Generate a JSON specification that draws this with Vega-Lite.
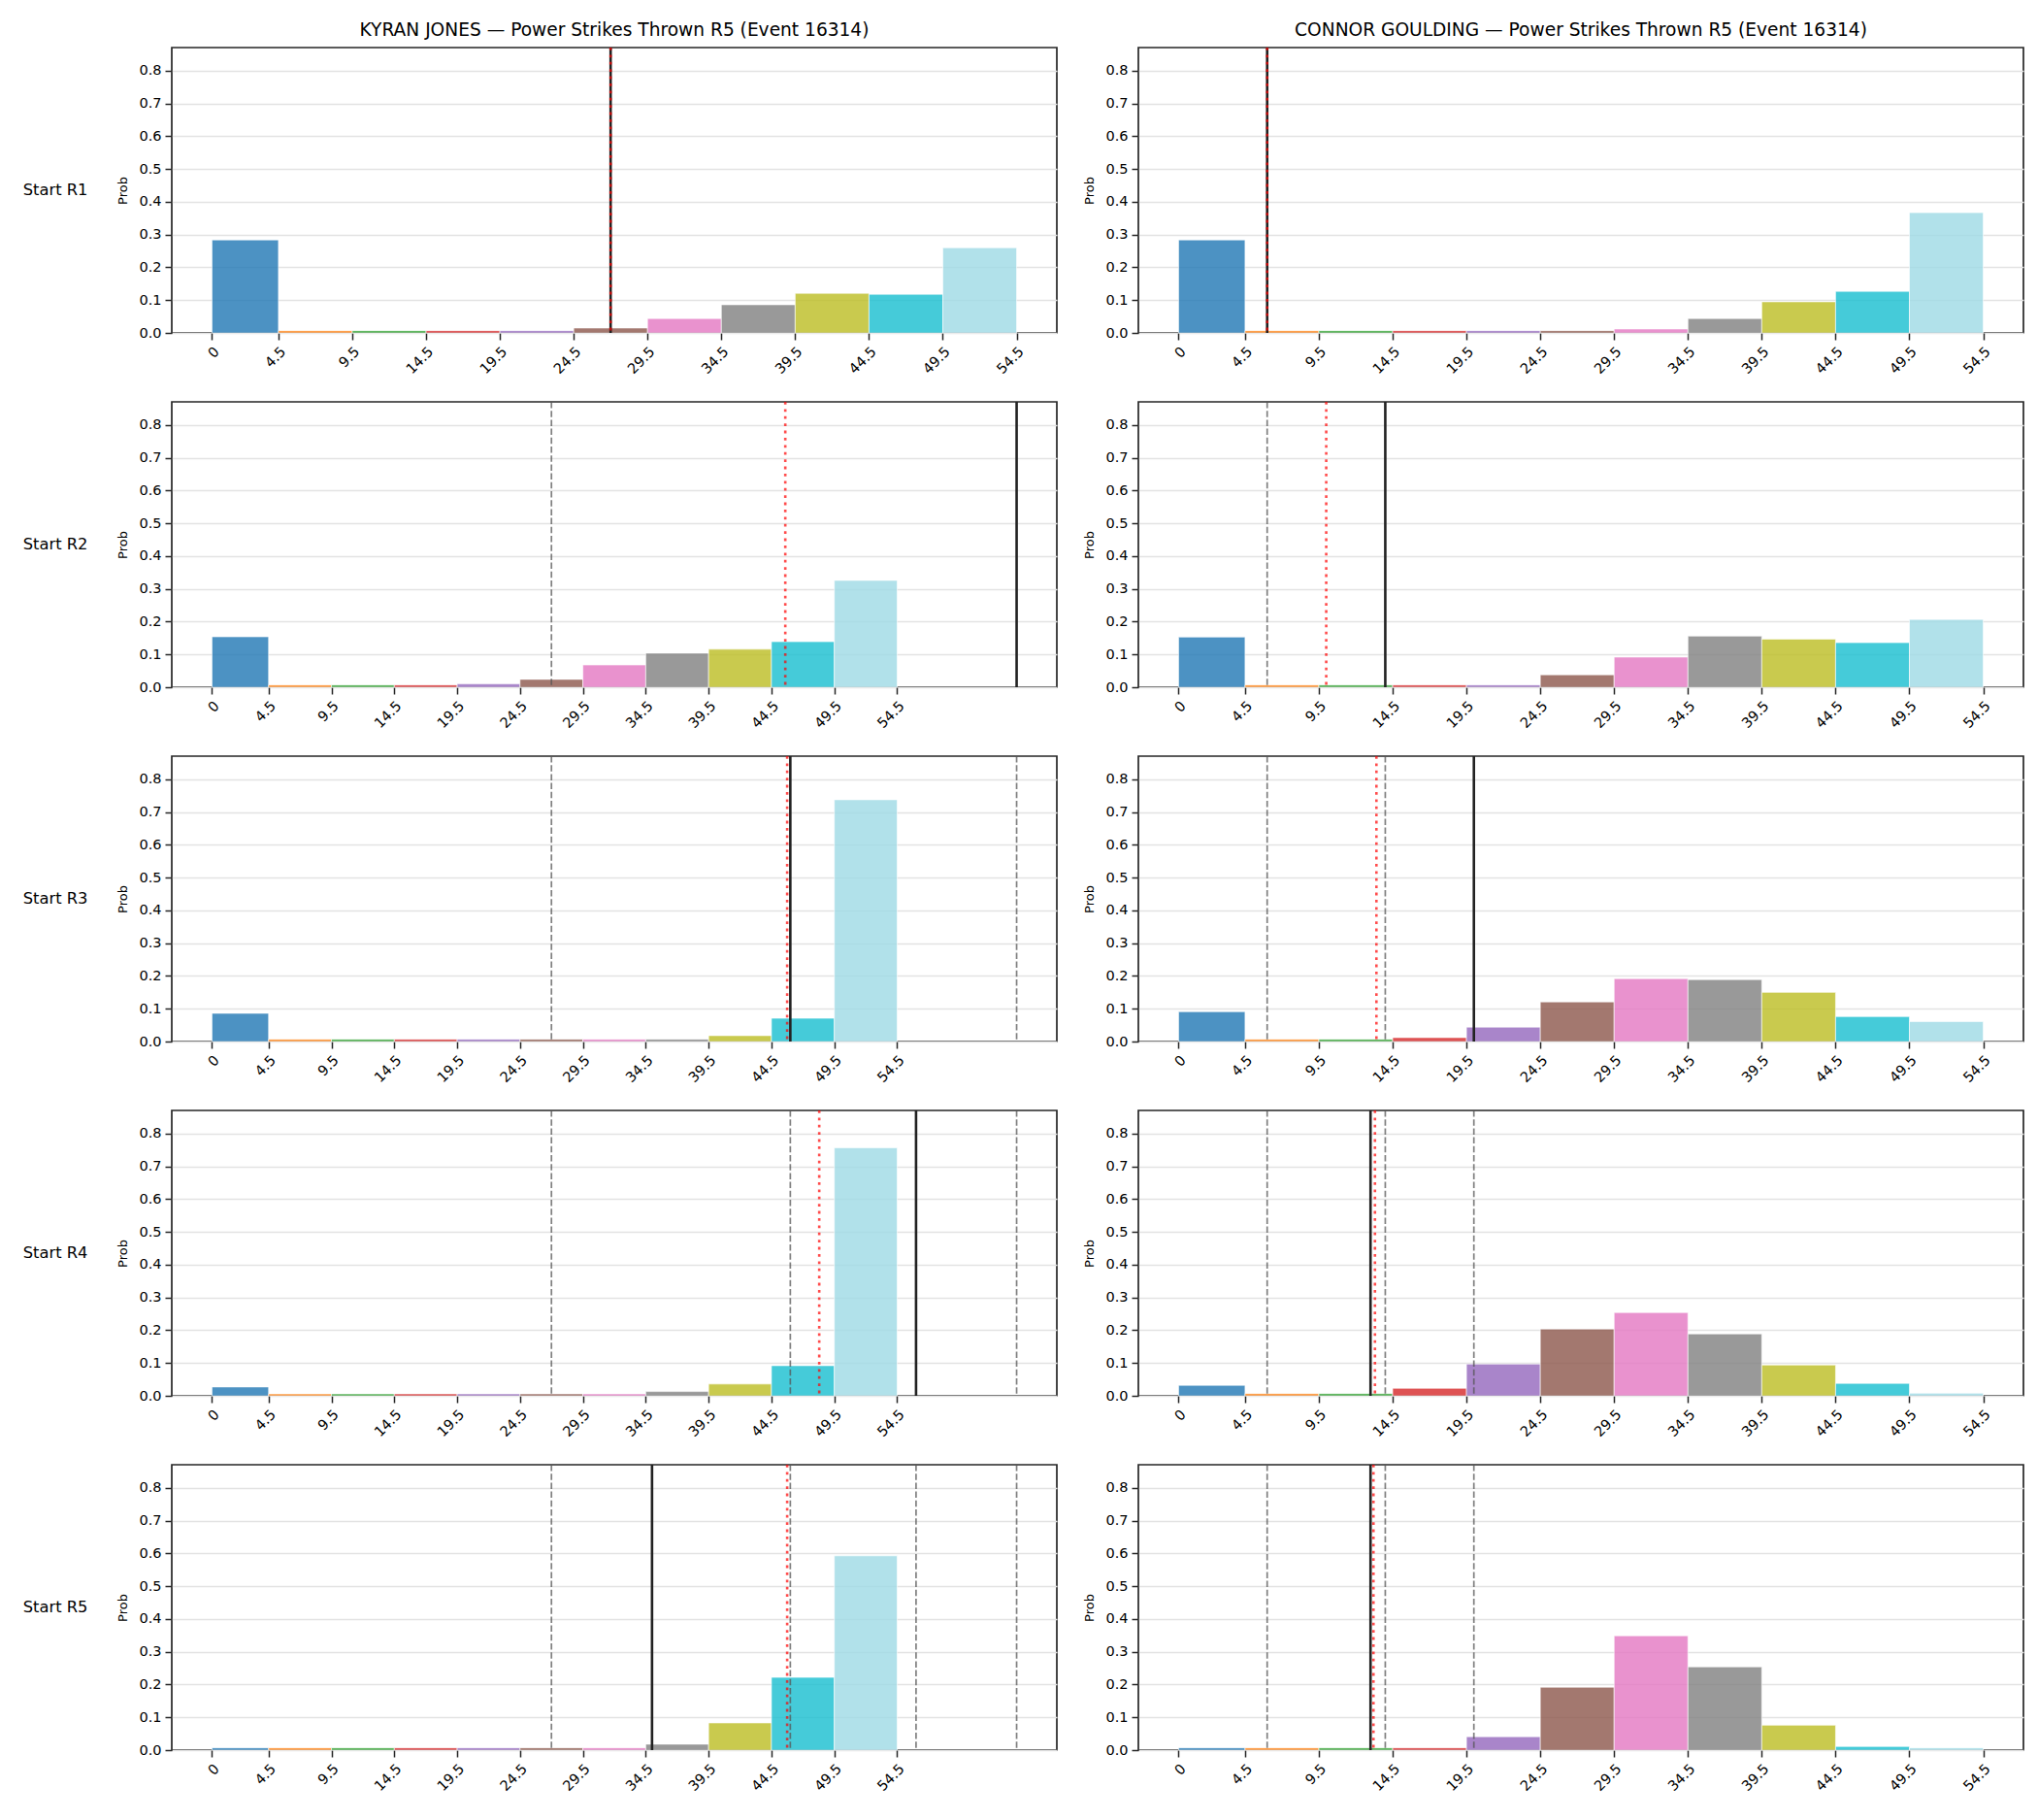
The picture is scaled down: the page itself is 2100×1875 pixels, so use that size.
{
  "$schema": "https://vega.github.io/schema/vega-lite/v6.json",
  "background": "white",
  "padding": {"left": 23, "top": 22, "right": 0, "bottom": 0},
  "data": {"values": [
    {"k":"bar","r":"Start R1","f":"KYRAN JONES","b":"b0","lo":0,"hi":4.5,"p":0.284},
    {"k":"bar","r":"Start R1","f":"KYRAN JONES","b":"b1","lo":4.5,"hi":9.5,"p":0.007},
    {"k":"bar","r":"Start R1","f":"KYRAN JONES","b":"b2","lo":9.5,"hi":14.5,"p":0.007},
    {"k":"bar","r":"Start R1","f":"KYRAN JONES","b":"b3","lo":14.5,"hi":19.5,"p":0.007},
    {"k":"bar","r":"Start R1","f":"KYRAN JONES","b":"b4","lo":19.5,"hi":24.5,"p":0.007},
    {"k":"bar","r":"Start R1","f":"KYRAN JONES","b":"b5","lo":24.5,"hi":29.5,"p":0.015},
    {"k":"bar","r":"Start R1","f":"KYRAN JONES","b":"b6","lo":29.5,"hi":34.5,"p":0.044},
    {"k":"bar","r":"Start R1","f":"KYRAN JONES","b":"b7","lo":34.5,"hi":39.5,"p":0.086},
    {"k":"bar","r":"Start R1","f":"KYRAN JONES","b":"b8","lo":39.5,"hi":44.5,"p":0.121},
    {"k":"bar","r":"Start R1","f":"KYRAN JONES","b":"b9","lo":44.5,"hi":49.5,"p":0.118},
    {"k":"bar","r":"Start R1","f":"KYRAN JONES","b":"b10","lo":49.5,"hi":54.5,"p":0.260},

    {"k":"bar","r":"Start R1","f":"CONNOR GOULDING","b":"b0","lo":0,"hi":4.5,"p":0.284},
    {"k":"bar","r":"Start R1","f":"CONNOR GOULDING","b":"b1","lo":4.5,"hi":9.5,"p":0.007},
    {"k":"bar","r":"Start R1","f":"CONNOR GOULDING","b":"b2","lo":9.5,"hi":14.5,"p":0.007},
    {"k":"bar","r":"Start R1","f":"CONNOR GOULDING","b":"b3","lo":14.5,"hi":19.5,"p":0.007},
    {"k":"bar","r":"Start R1","f":"CONNOR GOULDING","b":"b4","lo":19.5,"hi":24.5,"p":0.007},
    {"k":"bar","r":"Start R1","f":"CONNOR GOULDING","b":"b5","lo":24.5,"hi":29.5,"p":0.007},
    {"k":"bar","r":"Start R1","f":"CONNOR GOULDING","b":"b6","lo":29.5,"hi":34.5,"p":0.012},
    {"k":"bar","r":"Start R1","f":"CONNOR GOULDING","b":"b7","lo":34.5,"hi":39.5,"p":0.044},
    {"k":"bar","r":"Start R1","f":"CONNOR GOULDING","b":"b8","lo":39.5,"hi":44.5,"p":0.095},
    {"k":"bar","r":"Start R1","f":"CONNOR GOULDING","b":"b9","lo":44.5,"hi":49.5,"p":0.127},
    {"k":"bar","r":"Start R1","f":"CONNOR GOULDING","b":"b10","lo":49.5,"hi":54.5,"p":0.367},

    {"k":"bar","r":"Start R2","f":"KYRAN JONES","b":"b0","lo":0,"hi":4.5,"p":0.154},
    {"k":"bar","r":"Start R2","f":"KYRAN JONES","b":"b1","lo":4.5,"hi":9.5,"p":0.007},
    {"k":"bar","r":"Start R2","f":"KYRAN JONES","b":"b2","lo":9.5,"hi":14.5,"p":0.007},
    {"k":"bar","r":"Start R2","f":"KYRAN JONES","b":"b3","lo":14.5,"hi":19.5,"p":0.007},
    {"k":"bar","r":"Start R2","f":"KYRAN JONES","b":"b4","lo":19.5,"hi":24.5,"p":0.010},
    {"k":"bar","r":"Start R2","f":"KYRAN JONES","b":"b5","lo":24.5,"hi":29.5,"p":0.024},
    {"k":"bar","r":"Start R2","f":"KYRAN JONES","b":"b6","lo":29.5,"hi":34.5,"p":0.068},
    {"k":"bar","r":"Start R2","f":"KYRAN JONES","b":"b7","lo":34.5,"hi":39.5,"p":0.104},
    {"k":"bar","r":"Start R2","f":"KYRAN JONES","b":"b8","lo":39.5,"hi":44.5,"p":0.116},
    {"k":"bar","r":"Start R2","f":"KYRAN JONES","b":"b9","lo":44.5,"hi":49.5,"p":0.139},
    {"k":"bar","r":"Start R2","f":"KYRAN JONES","b":"b10","lo":49.5,"hi":54.5,"p":0.326},

    {"k":"bar","r":"Start R2","f":"CONNOR GOULDING","b":"b0","lo":0,"hi":4.5,"p":0.153},
    {"k":"bar","r":"Start R2","f":"CONNOR GOULDING","b":"b1","lo":4.5,"hi":9.5,"p":0.007},
    {"k":"bar","r":"Start R2","f":"CONNOR GOULDING","b":"b2","lo":9.5,"hi":14.5,"p":0.007},
    {"k":"bar","r":"Start R2","f":"CONNOR GOULDING","b":"b3","lo":14.5,"hi":19.5,"p":0.007},
    {"k":"bar","r":"Start R2","f":"CONNOR GOULDING","b":"b4","lo":19.5,"hi":24.5,"p":0.007},
    {"k":"bar","r":"Start R2","f":"CONNOR GOULDING","b":"b5","lo":24.5,"hi":29.5,"p":0.038},
    {"k":"bar","r":"Start R2","f":"CONNOR GOULDING","b":"b6","lo":29.5,"hi":34.5,"p":0.092},
    {"k":"bar","r":"Start R2","f":"CONNOR GOULDING","b":"b7","lo":34.5,"hi":39.5,"p":0.156},
    {"k":"bar","r":"Start R2","f":"CONNOR GOULDING","b":"b8","lo":39.5,"hi":44.5,"p":0.147},
    {"k":"bar","r":"Start R2","f":"CONNOR GOULDING","b":"b9","lo":44.5,"hi":49.5,"p":0.136},
    {"k":"bar","r":"Start R2","f":"CONNOR GOULDING","b":"b10","lo":49.5,"hi":54.5,"p":0.207},

    {"k":"bar","r":"Start R3","f":"KYRAN JONES","b":"b0","lo":0,"hi":4.5,"p":0.086},
    {"k":"bar","r":"Start R3","f":"KYRAN JONES","b":"b1","lo":4.5,"hi":9.5,"p":0.007},
    {"k":"bar","r":"Start R3","f":"KYRAN JONES","b":"b2","lo":9.5,"hi":14.5,"p":0.007},
    {"k":"bar","r":"Start R3","f":"KYRAN JONES","b":"b3","lo":14.5,"hi":19.5,"p":0.007},
    {"k":"bar","r":"Start R3","f":"KYRAN JONES","b":"b4","lo":19.5,"hi":24.5,"p":0.007},
    {"k":"bar","r":"Start R3","f":"KYRAN JONES","b":"b5","lo":24.5,"hi":29.5,"p":0.007},
    {"k":"bar","r":"Start R3","f":"KYRAN JONES","b":"b6","lo":29.5,"hi":34.5,"p":0.007},
    {"k":"bar","r":"Start R3","f":"KYRAN JONES","b":"b7","lo":34.5,"hi":39.5,"p":0.007},
    {"k":"bar","r":"Start R3","f":"KYRAN JONES","b":"b8","lo":39.5,"hi":44.5,"p":0.018},
    {"k":"bar","r":"Start R3","f":"KYRAN JONES","b":"b9","lo":44.5,"hi":49.5,"p":0.071},
    {"k":"bar","r":"Start R3","f":"KYRAN JONES","b":"b10","lo":49.5,"hi":54.5,"p":0.738},

    {"k":"bar","r":"Start R3","f":"CONNOR GOULDING","b":"b0","lo":0,"hi":4.5,"p":0.091},
    {"k":"bar","r":"Start R3","f":"CONNOR GOULDING","b":"b1","lo":4.5,"hi":9.5,"p":0.007},
    {"k":"bar","r":"Start R3","f":"CONNOR GOULDING","b":"b2","lo":9.5,"hi":14.5,"p":0.007},
    {"k":"bar","r":"Start R3","f":"CONNOR GOULDING","b":"b3","lo":14.5,"hi":19.5,"p":0.012},
    {"k":"bar","r":"Start R3","f":"CONNOR GOULDING","b":"b4","lo":19.5,"hi":24.5,"p":0.044},
    {"k":"bar","r":"Start R3","f":"CONNOR GOULDING","b":"b5","lo":24.5,"hi":29.5,"p":0.121},
    {"k":"bar","r":"Start R3","f":"CONNOR GOULDING","b":"b6","lo":29.5,"hi":34.5,"p":0.192},
    {"k":"bar","r":"Start R3","f":"CONNOR GOULDING","b":"b7","lo":34.5,"hi":39.5,"p":0.189},
    {"k":"bar","r":"Start R3","f":"CONNOR GOULDING","b":"b8","lo":39.5,"hi":44.5,"p":0.150},
    {"k":"bar","r":"Start R3","f":"CONNOR GOULDING","b":"b9","lo":44.5,"hi":49.5,"p":0.076},
    {"k":"bar","r":"Start R3","f":"CONNOR GOULDING","b":"b10","lo":49.5,"hi":54.5,"p":0.061},

    {"k":"bar","r":"Start R4","f":"KYRAN JONES","b":"b0","lo":0,"hi":4.5,"p":0.027},
    {"k":"bar","r":"Start R4","f":"KYRAN JONES","b":"b1","lo":4.5,"hi":9.5,"p":0.006},
    {"k":"bar","r":"Start R4","f":"KYRAN JONES","b":"b2","lo":9.5,"hi":14.5,"p":0.006},
    {"k":"bar","r":"Start R4","f":"KYRAN JONES","b":"b3","lo":14.5,"hi":19.5,"p":0.006},
    {"k":"bar","r":"Start R4","f":"KYRAN JONES","b":"b4","lo":19.5,"hi":24.5,"p":0.006},
    {"k":"bar","r":"Start R4","f":"KYRAN JONES","b":"b5","lo":24.5,"hi":29.5,"p":0.006},
    {"k":"bar","r":"Start R4","f":"KYRAN JONES","b":"b6","lo":29.5,"hi":34.5,"p":0.006},
    {"k":"bar","r":"Start R4","f":"KYRAN JONES","b":"b7","lo":34.5,"hi":39.5,"p":0.013},
    {"k":"bar","r":"Start R4","f":"KYRAN JONES","b":"b8","lo":39.5,"hi":44.5,"p":0.036},
    {"k":"bar","r":"Start R4","f":"KYRAN JONES","b":"b9","lo":44.5,"hi":49.5,"p":0.092},
    {"k":"bar","r":"Start R4","f":"KYRAN JONES","b":"b10","lo":49.5,"hi":54.5,"p":0.757},

    {"k":"bar","r":"Start R4","f":"CONNOR GOULDING","b":"b0","lo":0,"hi":4.5,"p":0.032},
    {"k":"bar","r":"Start R4","f":"CONNOR GOULDING","b":"b1","lo":4.5,"hi":9.5,"p":0.007},
    {"k":"bar","r":"Start R4","f":"CONNOR GOULDING","b":"b2","lo":9.5,"hi":14.5,"p":0.007},
    {"k":"bar","r":"Start R4","f":"CONNOR GOULDING","b":"b3","lo":14.5,"hi":19.5,"p":0.023},
    {"k":"bar","r":"Start R4","f":"CONNOR GOULDING","b":"b4","lo":19.5,"hi":24.5,"p":0.097},
    {"k":"bar","r":"Start R4","f":"CONNOR GOULDING","b":"b5","lo":24.5,"hi":29.5,"p":0.204},
    {"k":"bar","r":"Start R4","f":"CONNOR GOULDING","b":"b6","lo":29.5,"hi":34.5,"p":0.254},
    {"k":"bar","r":"Start R4","f":"CONNOR GOULDING","b":"b7","lo":34.5,"hi":39.5,"p":0.189},
    {"k":"bar","r":"Start R4","f":"CONNOR GOULDING","b":"b8","lo":39.5,"hi":44.5,"p":0.094},
    {"k":"bar","r":"Start R4","f":"CONNOR GOULDING","b":"b9","lo":44.5,"hi":49.5,"p":0.038},
    {"k":"bar","r":"Start R4","f":"CONNOR GOULDING","b":"b10","lo":49.5,"hi":54.5,"p":0.008},

    {"k":"bar","r":"Start R5","f":"KYRAN JONES","b":"b0","lo":0,"hi":4.5,"p":0.007},
    {"k":"bar","r":"Start R5","f":"KYRAN JONES","b":"b1","lo":4.5,"hi":9.5,"p":0.007},
    {"k":"bar","r":"Start R5","f":"KYRAN JONES","b":"b2","lo":9.5,"hi":14.5,"p":0.007},
    {"k":"bar","r":"Start R5","f":"KYRAN JONES","b":"b3","lo":14.5,"hi":19.5,"p":0.007},
    {"k":"bar","r":"Start R5","f":"KYRAN JONES","b":"b4","lo":19.5,"hi":24.5,"p":0.007},
    {"k":"bar","r":"Start R5","f":"KYRAN JONES","b":"b5","lo":24.5,"hi":29.5,"p":0.007},
    {"k":"bar","r":"Start R5","f":"KYRAN JONES","b":"b6","lo":29.5,"hi":34.5,"p":0.007},
    {"k":"bar","r":"Start R5","f":"KYRAN JONES","b":"b7","lo":34.5,"hi":39.5,"p":0.018},
    {"k":"bar","r":"Start R5","f":"KYRAN JONES","b":"b8","lo":39.5,"hi":44.5,"p":0.083},
    {"k":"bar","r":"Start R5","f":"KYRAN JONES","b":"b9","lo":44.5,"hi":49.5,"p":0.222},
    {"k":"bar","r":"Start R5","f":"KYRAN JONES","b":"b10","lo":49.5,"hi":54.5,"p":0.593},

    {"k":"bar","r":"Start R5","f":"CONNOR GOULDING","b":"b0","lo":0,"hi":4.5,"p":0.007},
    {"k":"bar","r":"Start R5","f":"CONNOR GOULDING","b":"b1","lo":4.5,"hi":9.5,"p":0.007},
    {"k":"bar","r":"Start R5","f":"CONNOR GOULDING","b":"b2","lo":9.5,"hi":14.5,"p":0.007},
    {"k":"bar","r":"Start R5","f":"CONNOR GOULDING","b":"b3","lo":14.5,"hi":19.5,"p":0.007},
    {"k":"bar","r":"Start R5","f":"CONNOR GOULDING","b":"b4","lo":19.5,"hi":24.5,"p":0.041},
    {"k":"bar","r":"Start R5","f":"CONNOR GOULDING","b":"b5","lo":24.5,"hi":29.5,"p":0.192},
    {"k":"bar","r":"Start R5","f":"CONNOR GOULDING","b":"b6","lo":29.5,"hi":34.5,"p":0.349},
    {"k":"bar","r":"Start R5","f":"CONNOR GOULDING","b":"b7","lo":34.5,"hi":39.5,"p":0.254},
    {"k":"bar","r":"Start R5","f":"CONNOR GOULDING","b":"b8","lo":39.5,"hi":44.5,"p":0.076},
    {"k":"bar","r":"Start R5","f":"CONNOR GOULDING","b":"b9","lo":44.5,"hi":49.5,"p":0.011},
    {"k":"bar","r":"Start R5","f":"CONNOR GOULDING","b":"b10","lo":49.5,"hi":54.5,"p":0.007},

    {"k":"obs","r":"Start R1","f":"KYRAN JONES","v":27},
    {"k":"mean","r":"Start R1","f":"KYRAN JONES","v":27.0},
    {"k":"prev","r":"Start R2","f":"KYRAN JONES","v":27},
    {"k":"obs","r":"Start R2","f":"KYRAN JONES","v":64},
    {"k":"mean","r":"Start R2","f":"KYRAN JONES","v":45.6},
    {"k":"prev","r":"Start R3","f":"KYRAN JONES","v":27},
    {"k":"prev","r":"Start R3","f":"KYRAN JONES","v":64},
    {"k":"obs","r":"Start R3","f":"KYRAN JONES","v":46},
    {"k":"mean","r":"Start R3","f":"KYRAN JONES","v":45.75},
    {"k":"prev","r":"Start R4","f":"KYRAN JONES","v":27},
    {"k":"prev","r":"Start R4","f":"KYRAN JONES","v":64},
    {"k":"prev","r":"Start R4","f":"KYRAN JONES","v":46},
    {"k":"obs","r":"Start R4","f":"KYRAN JONES","v":56},
    {"k":"mean","r":"Start R4","f":"KYRAN JONES","v":48.3},
    {"k":"prev","r":"Start R5","f":"KYRAN JONES","v":27},
    {"k":"prev","r":"Start R5","f":"KYRAN JONES","v":64},
    {"k":"prev","r":"Start R5","f":"KYRAN JONES","v":46},
    {"k":"prev","r":"Start R5","f":"KYRAN JONES","v":56},
    {"k":"obs","r":"Start R5","f":"KYRAN JONES","v":35},
    {"k":"mean","r":"Start R5","f":"KYRAN JONES","v":45.75},

    {"k":"obs","r":"Start R1","f":"CONNOR GOULDING","v":6},
    {"k":"mean","r":"Start R1","f":"CONNOR GOULDING","v":6.0},
    {"k":"prev","r":"Start R2","f":"CONNOR GOULDING","v":6},
    {"k":"obs","r":"Start R2","f":"CONNOR GOULDING","v":14},
    {"k":"mean","r":"Start R2","f":"CONNOR GOULDING","v":10.0},
    {"k":"prev","r":"Start R3","f":"CONNOR GOULDING","v":6},
    {"k":"prev","r":"Start R3","f":"CONNOR GOULDING","v":14},
    {"k":"obs","r":"Start R3","f":"CONNOR GOULDING","v":20},
    {"k":"mean","r":"Start R3","f":"CONNOR GOULDING","v":13.4},
    {"k":"prev","r":"Start R4","f":"CONNOR GOULDING","v":6},
    {"k":"prev","r":"Start R4","f":"CONNOR GOULDING","v":14},
    {"k":"prev","r":"Start R4","f":"CONNOR GOULDING","v":20},
    {"k":"obs","r":"Start R4","f":"CONNOR GOULDING","v":13},
    {"k":"mean","r":"Start R4","f":"CONNOR GOULDING","v":13.3},
    {"k":"prev","r":"Start R5","f":"CONNOR GOULDING","v":6},
    {"k":"prev","r":"Start R5","f":"CONNOR GOULDING","v":14},
    {"k":"prev","r":"Start R5","f":"CONNOR GOULDING","v":20},
    {"k":"prev","r":"Start R5","f":"CONNOR GOULDING","v":13},
    {"k":"obs","r":"Start R5","f":"CONNOR GOULDING","v":13},
    {"k":"mean","r":"Start R5","f":"CONNOR GOULDING","v":13.2}
  ]},
  "facet": {
    "row": {"field": "r", "type": "nominal", "sort": ["Start R1","Start R2","Start R3","Start R4","Start R5"],
      "header": {"title": null, "labelAngle": 0, "labelOrient": "left", "labelFontSize": 16.3, "labelColor": "black", "labelPadding": 20, "labelFont": "DejaVu Sans"}},
    "column": {"field": "f", "type": "nominal", "sort": ["KYRAN JONES","CONNOR GOULDING"],
      "header": {"title": null, "labelExpr": "datum.value + ' — Power Strikes Thrown R5 (Event 16314)'", "labelFontSize": 18.6, "labelColor": "black", "labelPadding": 8, "labelFont": "DejaVu Sans"}}
  },
  "spacing": {"row": 71, "column": 84},
  "bounds": "flush",
  "resolve": {"scale": {"x": "independent"}, "axis": {"y": "independent"}},
  "spec": {
    "width": 912,
    "height": 294,
    "layer": [
      {
        "transform": [{"filter": "datum.k === 'bar'"}],
        "mark": {"type": "bar", "fillOpacity": 0.8, "stroke": "white", "strokeWidth": 0.6},
        "encoding": {
          "x": {"field": "lo", "type": "quantitative", "title": null,
            "scale": {"nice": false, "zero": false, "padding": 41.45},
            "axis": {"values": [0,4.5,9.5,14.5,19.5,24.5,29.5,34.5,39.5,44.5,49.5,54.5], "labelExpr": "datum.value + ''", "labelAngle": -45, "grid": false, "labelPadding": 5}},
          "x2": {"field": "hi"},
          "y": {"field": "p", "type": "quantitative", "title": "Prob",
            "scale": {"domain": [0, 0.871], "nice": false},
            "axis": {"values": [0,0.1,0.2,0.3,0.4,0.5,0.6,0.7,0.8], "format": ".1f", "grid": true}},
          "y2": {"datum": 0},
          "color": {"field": "b", "type": "nominal", "legend": null,
            "scale": {"domain": ["b0","b1","b2","b3","b4","b5","b6","b7","b8","b9","b10"],
              "range": ["#1f77b4","#ff7f0e","#2ca02c","#d62728","#9467bd","#8c564b","#e377c2","#7f7f7f","#bcbd22","#17becf","#9edae5"]}}
        }
      },
      {
        "transform": [{"filter": "datum.k === 'prev'"}],
        "mark": {"type": "rule", "color": "#555555", "opacity": 0.75, "strokeWidth": 1.7, "strokeDash": [6.5, 2.7]},
        "encoding": {"x": {"field": "v", "type": "quantitative", "title": null}}
      },
      {
        "transform": [{"filter": "datum.k === 'obs'"}],
        "mark": {"type": "rule", "color": "#222222", "strokeWidth": 2.6},
        "encoding": {"x": {"field": "v", "type": "quantitative", "title": null}}
      },
      {
        "transform": [{"filter": "datum.k === 'mean'"}],
        "mark": {"type": "rule", "color": "#ff0000", "opacity": 0.7, "strokeWidth": 2.6, "strokeDash": [2.8, 4.6]},
        "encoding": {"x": {"field": "v", "type": "quantitative", "title": null}}
      }
    ]
  },
  "config": {
    "font": "DejaVu Sans",
    "view": {"stroke": "#262626", "strokeWidth": 1.7},
    "axis": {
      "domain": false,
      "tickColor": "#262626", "tickSize": 7, "tickWidth": 1.5,
      "labelFontSize": 14.5, "labelColor": "black", "labelPadding": 4, "labelFont": "DejaVu Sans",
      "gridColor": "#e3e3e3", "gridWidth": 1.3,
      "titleFontSize": 13, "titleFontWeight": "normal", "titleColor": "black", "titlePadding": 9, "titleFont": "DejaVu Sans"
    }
  }
}
